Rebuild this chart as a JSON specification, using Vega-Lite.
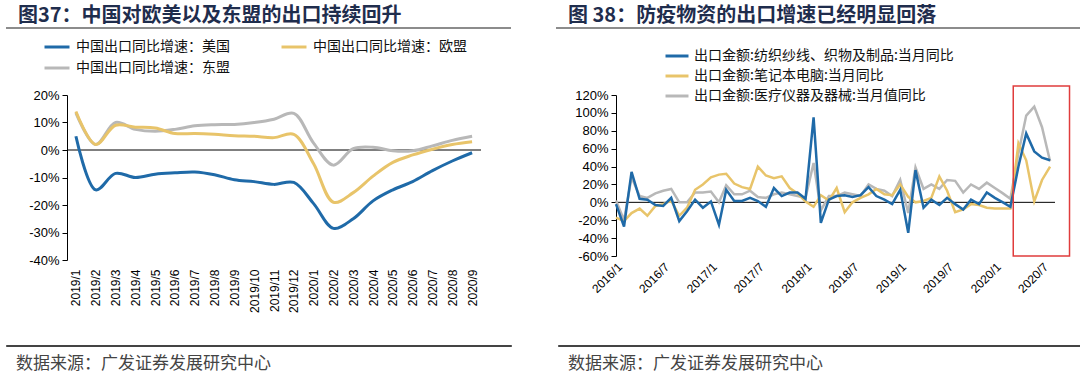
{
  "$schema": "https://vega.github.io/schema/vega-lite/v6.json",
  "background": "white",
  "padding": {"left": 5, "top": 6, "right": 0, "bottom": 0},
  "config": {
    "font": "Noto Sans CJK SC",
    "view": {"stroke": null},
    "axis": {"labelFont": "Liberation Sans", "labelColor": "#000", "domainColor": "#000", "tickColor": "#000", "grid": false, "labelFontSize": 13, "labelOverlap": false, "titleFont": "Noto Sans CJK SC"},
    "legend": {"labelFont": "Noto Sans CJK SC", "labelColor": "#111", "padding": 0}
  },
  "spacing": 4,
  "vconcat": [
    {
      "spacing": 45,
      "hconcat": [
        {
          "width": 505, "height": 2,
          "view": {"fill": "#8c8c8c", "stroke": null},
          "title": {"text": "图37：中国对欧美以及东盟的出口持续回升", "anchor": "start", "dx": 12, "fontSize": 20, "fontWeight": "bold", "color": "#1f2d4d", "offset": 1},
          "data": {"values": []},
          "mark": "text",
          "encoding": {}
        },
        {
          "width": 525, "height": 2,
          "view": {"fill": "#8c8c8c", "stroke": null},
          "title": {"text": "图 38：防疫物资的出口增速已经明显回落", "anchor": "start", "dx": 12, "fontSize": 20, "fontWeight": "bold", "color": "#1f2d4d", "offset": 1},
          "data": {"values": []},
          "mark": "text",
          "encoding": {}
        }
      ]
    },
    {
      "spacing": 5,
      "vconcat": [
        {
          "spacing": 0,
          "resolve": {"scale": {"color": "independent"}, "legend": {"color": "independent"}},
          "hconcat": [
            {
              "width": 1, "height": 1,
              "data": {"values": []},
              "mark": "text",
              "encoding": {}
            },
            {
              "spacing": 75,
              "resolve": {"scale": {"color": "independent"}, "legend": {"color": "independent"}},
              "hconcat": [
                {
                  "width": 414, "height": 165,
                  "layer": [
                    {
                      "data": {"values": [{}]},
                      "mark": {"type": "rule", "color": "#000", "strokeWidth": 1},
                      "encoding": {"y": {"datum": 0, "type": "quantitative", "scale": {"domain": [-40, 20], "nice": false},
                        "axis": {"title": null, "values": [-40, -30, -20, -10, 0, 10, 20], "labelExpr": "datum.value + '%'", "tickSize": 5, "labelPadding": 3, "minExtent": 60, "labelOverlap": false}}}
                    },
                    {
                      "data": {"values": [
                        {"month": "2019/1", "us": 5, "eu": 14, "asean": 13.5},
                        {"month": "2019/2", "us": -14.5, "eu": 2, "asean": 2},
                        {"month": "2019/3", "us": -8.5, "eu": 9, "asean": 10},
                        {"month": "2019/4", "us": -10, "eu": 8.3, "asean": 7.5},
                        {"month": "2019/5", "us": -8.8, "eu": 8, "asean": 6.8},
                        {"month": "2019/6", "us": -8.3, "eu": 6, "asean": 7.5},
                        {"month": "2019/7", "us": -8, "eu": 6, "asean": 8.8},
                        {"month": "2019/8", "us": -9, "eu": 5.7, "asean": 9.2},
                        {"month": "2019/9", "us": -10.8, "eu": 5.2, "asean": 9.3},
                        {"month": "2019/10", "us": -11.5, "eu": 5, "asean": 10},
                        {"month": "2019/11", "us": -12.5, "eu": 4.5, "asean": 11.2},
                        {"month": "2019/12", "us": -11.8, "eu": 5.7, "asean": 13.3},
                        {"month": "2020/1", "us": -19.5, "eu": -5, "asean": 2.5},
                        {"month": "2020/2", "us": -28.5, "eu": -19, "asean": -5.5},
                        {"month": "2020/3", "us": -25, "eu": -15.5, "asean": 0.5},
                        {"month": "2020/4", "us": -18.5, "eu": -9.5, "asean": 1},
                        {"month": "2020/5", "us": -14.5, "eu": -4.5, "asean": -0.3},
                        {"month": "2020/6", "us": -11.5, "eu": -1.8, "asean": -0.3},
                        {"month": "2020/7", "us": -7.5, "eu": 0.3, "asean": 1.5},
                        {"month": "2020/8", "us": -4, "eu": 2, "asean": 3.5},
                        {"month": "2020/9", "us": -1, "eu": 3, "asean": 5}
                      ]},
                      "transform": [{"fold": ["asean", "eu", "us"], "as": ["series", "value"]}],
                      "mark": {"type": "line", "interpolate": "catmull-rom", "strokeWidth": 3},
                      "encoding": {
                        "x": {"field": "month", "type": "ordinal", "sort": null, "scale": {"type": "point", "padding": 0.45},
                          "axis": {"title": null, "labelAngle": 270, "domain": false, "ticks": false, "labelPadding": 9, "labelFontSize": 12, "minExtent": 79}},
                        "y": {"field": "value", "type": "quantitative", "scale": {"domain": [-40, 20], "nice": false},
                          "axis": {"title": null, "values": [-40, -30, -20, -10, 0, 10, 20], "labelExpr": "datum.value + '%'", "tickSize": 5, "labelPadding": 3, "minExtent": 60, "labelOverlap": false}},
                        "color": {"field": "series", "type": "nominal",
                          "scale": {"domain": ["us", "eu", "asean"], "range": ["#1f6aa8", "#e8c46a", "#b8b8b8"]},
                          "legend": {"title": null, "orient": "none", "direction": "horizontal", "legendX": -24, "legendY": -62, "columns": 2, "columnPadding": 45, "rowPadding": -2,
                            "symbolType": "stroke", "symbolSize": 625, "symbolStrokeWidth": 3, "labelFontSize": 14, "labelLimit": 400, "labelOffset": 5,
                            "labelExpr": "datum.label == 'us' ? '中国出口同比增速：美国' : datum.label == 'eu' ? '中国出口同比增速：欧盟' : '中国出口同比增速：东盟'"}}
                      }
                    }
                  ]
                },
                {
                  "width": 439, "height": 161,
                  "layer": [
                    {
                      "data": {"values": [{}]},
                      "mark": {"type": "rule", "color": "#000", "strokeWidth": 1},
                      "encoding": {"y": {"datum": 0, "type": "quantitative", "scale": {"domain": [-60, 120], "nice": false},
                        "axis": {"title": null, "values": [-60, -40, -20, 0, 20, 40, 60, 80, 100, 120], "labelExpr": "datum.value + '%'", "tickSize": 5, "labelPadding": 3, "minExtent": 59, "labelOverlap": false}}}
                    },
                    {
                      "data": {"values": [
                        {"month": "2016/1", "textile": -2, "laptop": -17, "medical": 2},
                        {"month": "2016/2", "textile": -27, "laptop": -21, "medical": -20},
                        {"month": "2016/3", "textile": 34, "laptop": -12, "medical": 28},
                        {"month": "2016/4", "textile": 4, "laptop": -7, "medical": 7},
                        {"month": "2016/5", "textile": 3, "laptop": -15, "medical": 5},
                        {"month": "2016/6", "textile": -3, "laptop": -4, "medical": 10},
                        {"month": "2016/7", "textile": -4, "laptop": -2, "medical": 13},
                        {"month": "2016/8", "textile": 5, "laptop": 2, "medical": 15},
                        {"month": "2016/9", "textile": -21, "laptop": -15, "medical": 0},
                        {"month": "2016/10", "textile": -10, "laptop": -6, "medical": 0},
                        {"month": "2016/11", "textile": 3, "laptop": 14, "medical": 11},
                        {"month": "2016/12", "textile": -6, "laptop": 20, "medical": 11},
                        {"month": "2017/1", "textile": 1, "laptop": 28, "medical": 12},
                        {"month": "2017/2", "textile": -25, "laptop": 31, "medical": 0},
                        {"month": "2017/3", "textile": 14, "laptop": 32, "medical": 19},
                        {"month": "2017/4", "textile": 1.5, "laptop": 21, "medical": 9},
                        {"month": "2017/5", "textile": 1.5, "laptop": 17, "medical": 9},
                        {"month": "2017/6", "textile": 5, "laptop": 15, "medical": 13},
                        {"month": "2017/7", "textile": 1.5, "laptop": 40, "medical": 6},
                        {"month": "2017/8", "textile": -5, "laptop": 30, "medical": 5},
                        {"month": "2017/9", "textile": 16, "laptop": 27, "medical": 9},
                        {"month": "2017/10", "textile": 7, "laptop": 29, "medical": 11},
                        {"month": "2017/11", "textile": 11, "laptop": 16, "medical": 9},
                        {"month": "2017/12", "textile": 11, "laptop": 10, "medical": 7},
                        {"month": "2018/1", "textile": 4, "laptop": 1, "medical": 5},
                        {"month": "2018/2", "textile": 95, "laptop": -5, "medical": 44},
                        {"month": "2018/3", "textile": -23, "laptop": 8, "medical": -9},
                        {"month": "2018/4", "textile": 3, "laptop": 2, "medical": 7},
                        {"month": "2018/5", "textile": 7, "laptop": 16, "medical": 7},
                        {"month": "2018/6", "textile": 8, "laptop": -11, "medical": 11},
                        {"month": "2018/7", "textile": 6, "laptop": 0, "medical": 9},
                        {"month": "2018/8", "textile": 8, "laptop": 5, "medical": 7},
                        {"month": "2018/9", "textile": 17, "laptop": 9, "medical": 20},
                        {"month": "2018/10", "textile": 7, "laptop": 15, "medical": 15},
                        {"month": "2018/11", "textile": 3, "laptop": 9, "medical": 13},
                        {"month": "2018/12", "textile": -2, "laptop": 8, "medical": 7},
                        {"month": "2019/1", "textile": 14, "laptop": 20, "medical": 25},
                        {"month": "2019/2", "textile": -34, "laptop": 6, "medical": -12},
                        {"month": "2019/3", "textile": 36, "laptop": 0, "medical": 39},
                        {"month": "2019/4", "textile": -6, "laptop": 1.5, "medical": 15},
                        {"month": "2019/5", "textile": 3, "laptop": 5, "medical": 20},
                        {"month": "2019/6", "textile": -3, "laptop": 29, "medical": 15},
                        {"month": "2019/7", "textile": 5, "laptop": 13, "medical": 25},
                        {"month": "2019/8", "textile": -2, "laptop": -11, "medical": 24},
                        {"month": "2019/9", "textile": -8, "laptop": -8, "medical": 11},
                        {"month": "2019/10", "textile": 3, "laptop": -2, "medical": 20},
                        {"month": "2019/11", "textile": -2, "laptop": -3, "medical": 15},
                        {"month": "2019/12", "textile": 11, "laptop": -6, "medical": 22},
                        {"month": "2020/1", "textile": 5, "laptop": -7, "medical": 16},
                        {"month": "2020/2", "textile": 0, "laptop": -7, "medical": 10},
                        {"month": "2020/3", "textile": -5, "laptop": -7, "medical": 4},
                        {"month": "2020/4", "textile": 40, "laptop": 66, "medical": 55},
                        {"month": "2020/5", "textile": 77, "laptop": 47, "medical": 97},
                        {"month": "2020/6", "textile": 57, "laptop": 1, "medical": 107},
                        {"month": "2020/7", "textile": 50, "laptop": 25, "medical": 84},
                        {"month": "2020/8", "textile": 47, "laptop": 40, "medical": 46}
                      ], "format": {"parse": {"month": "date:'%Y/%m'"}}},
                      "transform": [{"fold": ["medical", "laptop", "textile"], "as": ["series", "value"]}],
                      "mark": {"type": "line", "strokeWidth": 2.5},
                      "encoding": {
                        "x": {"field": "month", "type": "temporal",
                          "scale": {"domain": [{"year": 2016, "month": 1, "date": 1}, {"year": 2020, "month": 8, "date": 20}]},
                          "axis": {"title": null, "format": "%Y/%-m", "labelAngle": -45, "domain": false, "ticks": false, "labelPadding": 5, "labelFontSize": 12, "minExtent": 83,
                            "values": [{"year": 2016, "month": 1, "date": 1}, {"year": 2016, "month": 7, "date": 1}, {"year": 2017, "month": 1, "date": 1}, {"year": 2017, "month": 7, "date": 1}, {"year": 2018, "month": 1, "date": 1}, {"year": 2018, "month": 7, "date": 1}, {"year": 2019, "month": 1, "date": 1}, {"year": 2019, "month": 7, "date": 1}, {"year": 2020, "month": 1, "date": 1}, {"year": 2020, "month": 7, "date": 1}]}},
                        "y": {"field": "value", "type": "quantitative", "scale": {"domain": [-60, 120], "nice": false},
                          "axis": {"title": null, "values": [-60, -40, -20, 0, 20, 40, 60, 80, 100, 120], "labelExpr": "datum.value + '%'", "tickSize": 5, "labelPadding": 3, "minExtent": 59, "labelOverlap": false}},
                        "color": {"field": "series", "type": "nominal",
                          "scale": {"domain": ["textile", "laptop", "medical"], "range": ["#1f6aa8", "#e8c46a", "#b8b8b8"]},
                          "legend": {"title": null, "orient": "none", "legendX": 48, "legendY": -52, "rowPadding": 0,
                            "symbolType": "stroke", "symbolSize": 529, "symbolStrokeWidth": 3, "labelFontSize": 14, "labelLimit": 400, "labelOffset": 4,
                            "labelExpr": "datum.label == 'textile' ? '出口金额:纺织纱线、织物及制品:当月同比' : datum.label == 'laptop' ? '出口金额:笔记本电脑:当月同比' : '出口金额:医疗仪器及器械:当月值同比'"}}
                      }
                    },
                    {
                      "data": {"values": [{"start": "2020/03/12", "end": "2020/10/15", "lo": -60, "hi": 130}],
                        "format": {"parse": {"start": "date:'%Y/%m/%d'", "end": "date:'%Y/%m/%d'"}}},
                      "mark": {"type": "rect", "filled": false, "color": "#e03c3c", "strokeWidth": 1.5},
                      "encoding": {
                        "x": {"field": "start", "type": "temporal", "axis": {"title": null, "format": "%Y/%-m", "labelAngle": -45, "domain": false, "ticks": false, "labelPadding": 5, "labelFontSize": 12, "minExtent": 83,
                            "values": [{"year": 2016, "month": 1, "date": 1}, {"year": 2016, "month": 7, "date": 1}, {"year": 2017, "month": 1, "date": 1}, {"year": 2017, "month": 7, "date": 1}, {"year": 2018, "month": 1, "date": 1}, {"year": 2018, "month": 7, "date": 1}, {"year": 2019, "month": 1, "date": 1}, {"year": 2019, "month": 7, "date": 1}, {"year": 2020, "month": 1, "date": 1}, {"year": 2020, "month": 7, "date": 1}]}},
                        "x2": {"field": "end"},
                        "y": {"field": "lo", "type": "quantitative",
                          "axis": {"title": null, "values": [-60, -40, -20, 0, 20, 40, 60, 80, 100, 120], "labelExpr": "datum.value + '%'", "tickSize": 5, "labelPadding": 3, "minExtent": 59, "labelOverlap": false}},
                        "y2": {"field": "hi"}
                      }
                    }
                  ]
                }
              ]
            }
          ]
        },
        {
          "spacing": 45,
          "hconcat": [
            {
              "width": 505, "height": 1,
              "view": {"fill": "#444444", "stroke": "#444444", "strokeWidth": 1},
              "title": {"text": "数据来源：广发证券发展研究中心", "orient": "bottom", "anchor": "start", "dx": 10, "fontSize": 17, "fontWeight": "normal", "color": "#444", "offset": 10},
              "data": {"values": []},
              "mark": "text",
              "encoding": {}
            },
            {
              "width": 525, "height": 1,
              "view": {"fill": "#444444", "stroke": "#444444", "strokeWidth": 1},
              "title": {"text": "数据来源：广发证券发展研究中心", "orient": "bottom", "anchor": "start", "dx": 10, "fontSize": 17, "fontWeight": "normal", "color": "#444", "offset": 10},
              "data": {"values": []},
              "mark": "text",
              "encoding": {}
            }
          ]
        }
      ]
    }
  ]
}
